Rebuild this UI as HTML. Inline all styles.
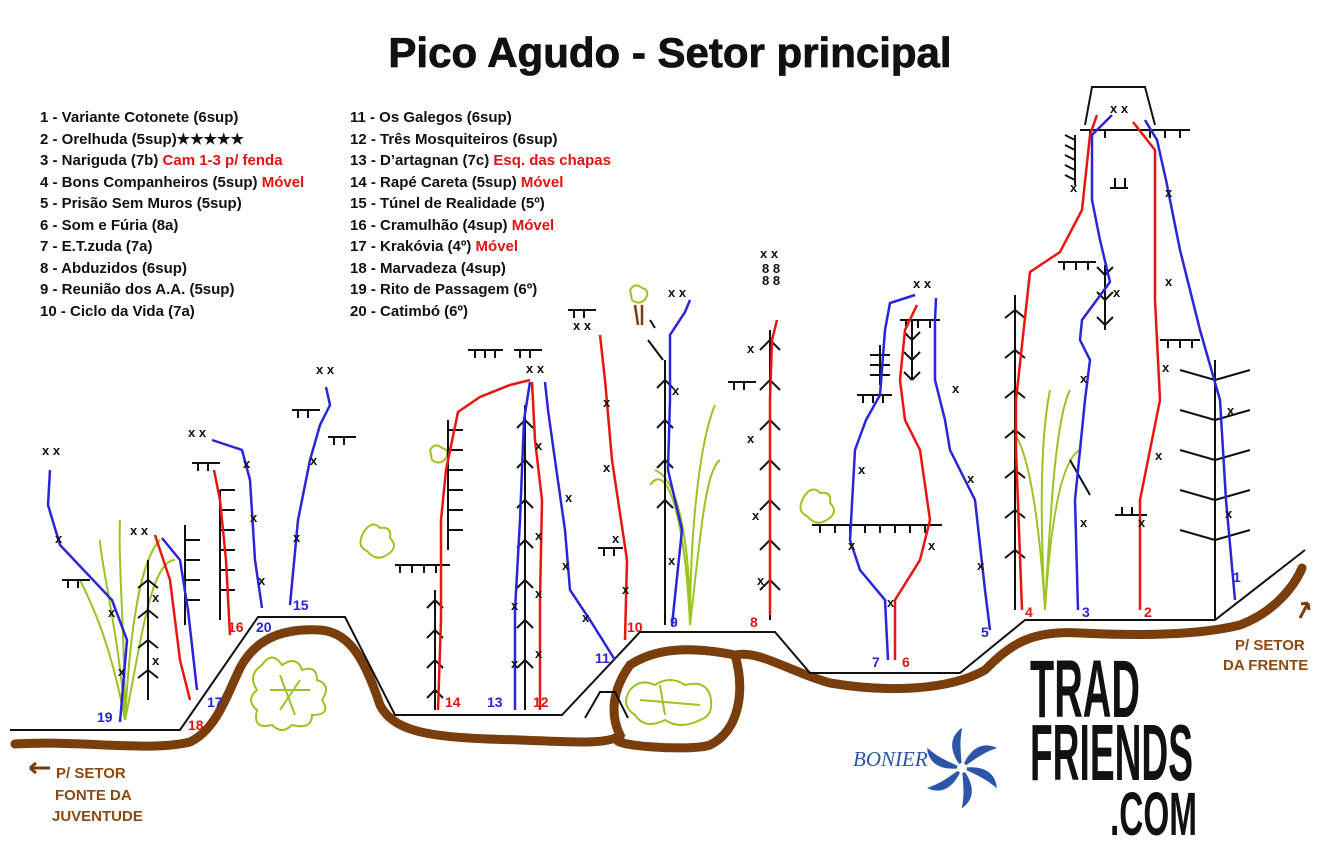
<!DOCTYPE html>
<html><head><meta charset="utf-8"><style>
html,body{margin:0;padding:0;background:#fff;}
svg{display:block;font-family:"Liberation Sans",sans-serif;}
.lg{font-size:15px;font-weight:bold;fill:#111;}
.r{fill:#e41313;}
.x{font-size:13px;font-weight:bold;fill:#111;}
.nr{font-size:14px;font-weight:bold;fill:#e41313;}
.nb{font-size:14px;font-weight:bold;fill:#2626d6;}
.red{stroke:#e8160f;stroke-width:2.5;fill:none;}
.blue{stroke:#2b25d9;stroke-width:2.5;fill:none;}
.blk{stroke:#111;stroke-width:2;fill:none;}
.grn{stroke:#9cc321;stroke-width:2;fill:none;}
</style></head><body>
<svg width="1328" height="850" viewBox="0 0 1328 850">
<text x="670" y="67" text-anchor="middle" font-size="42" font-weight="bold" fill="#111" stroke="#111" stroke-width="0.8">Pico Agudo - Setor principal</text>
<g class="lg">
<text x="40" y="122">1 - Variante Cotonete (6sup)</text>
<text x="40" y="144">2 - Orelhuda (5sup)★★★★★</text>
<text x="40" y="165">3 - Nariguda (7b) <tspan class="r">Cam 1-3 p/ fenda</tspan></text>
<text x="40" y="187">4 - Bons Companheiros (5sup) <tspan class="r">Móvel</tspan></text>
<text x="40" y="208">5 - Prisão Sem Muros (5sup)</text>
<text x="40" y="230">6 - Som e Fúria (8a)</text>
<text x="40" y="251">7 - E.T.zuda (7a)</text>
<text x="40" y="273">8 - Abduzidos (6sup)</text>
<text x="40" y="294">9 - Reunião dos A.A. (5sup)</text>
<text x="40" y="316">10 - Ciclo da Vida (7a)</text>
<text x="350" y="122">11 - Os Galegos (6sup)</text>
<text x="350" y="144">12 - Três Mosquiteiros (6sup)</text>
<text x="350" y="165">13 - D’artagnan (7c) <tspan class="r">Esq. das chapas</tspan></text>
<text x="350" y="187">14 - Rapé Careta (5sup) <tspan class="r">Móvel</tspan></text>
<text x="350" y="208">15 - Túnel de Realidade (5º)</text>
<text x="350" y="230">16 - Cramulhão (4sup) <tspan class="r">Móvel</tspan></text>
<text x="350" y="251">17 - Krakóvia (4º) <tspan class="r">Móvel</tspan></text>
<text x="350" y="273">18 - Marvadeza (4sup)</text>
<text x="350" y="294">19 - Rito de Passagem (6º)</text>
<text x="350" y="316">20 - Catimbó (6º)</text>
</g>
<!-- brown trail -->
<path d="M15,744 C80,740 150,752 190,742 C215,730 225,700 240,668 C255,640 280,628 320,630 C350,632 365,660 380,705 C395,735 440,738 520,740 C570,742 610,745 620,735 C610,715 612,690 630,665 C660,645 700,648 735,655 C745,690 740,730 710,745 C690,752 600,745 620,738 M735,655 C760,650 790,672 830,683 C890,693 950,690 985,670 C1010,645 1030,630 1080,633 C1140,636 1200,635 1240,625 C1275,612 1295,585 1302,568" stroke="#7a3d0c" stroke-width="9" fill="none" stroke-linecap="round"/>
<path d="M30,768 h20 M30,768 l6,-5 M30,768 l6,5" stroke="#7a3d0c" stroke-width="3" fill="none"/>
<path d="M1300,618 l8,-15 M1308,603 l-7,1 M1308,603 l1,7" stroke="#7a3d0c" stroke-width="3" fill="none"/>
<g font-size="15" font-weight="bold" fill="#8a4a14">
<text x="56" y="778">P/ SETOR</text><text x="55" y="800">FONTE DA</text><text x="52" y="821">JUVENTUDE</text>
<text x="1235" y="650">P/ SETOR</text><text x="1223" y="670">DA FRENTE</text>
</g>
<!-- ground -->
<polyline class="blk" points="10,730 180,730 258,617 345,617 395,715 562,715 640,632 775,632 810,673 960,673 1025,620 1215,620 1305,550"/>
<path class="blk" d="M585,718 L600,692 L615,692 L628,718"/>
<!-- bushes -->
<g class="grn" stroke-width="2.5">
<path d="M262,665 q10,-15 20,0 q15,-10 20,5 q15,-5 15,10 q15,5 5,20 q10,15 -10,15 q0,15 -20,10 q-10,10 -20,0 q-20,5 -15,-15 q-12,-10 0,-20 q-10,-15 5,-25z"/>
<path d="M270,690 l40,0 M280,675 l15,40 M300,680 l-20,30"/>
<path d="M630,690 q10,-12 25,-5 q15,-10 30,0 q20,-5 25,10 q5,20 -10,25 q-20,10 -35,0 q-20,10 -30,-5 q-15,-10 -5,-25z"/>
<path d="M640,700 l60,5 M660,685 l5,30"/>
<path d="M365,530 q8,-10 15,-2 q12,-2 10,10 q10,10 -5,18 q-10,5 -18,-5 q-12,-5 -2,-21z"/>
<path d="M805,495 q8,-10 15,-2 q12,-2 10,10 q10,10 -5,18 q-10,5 -18,-5 q-12,-5 -2,-21z"/>
<path d="M430,450 q5,-8 12,-2 q8,2 4,10 q-6,8 -14,2z"/>
<path d="M630,290 q5,-8 12,-2 q8,2 4,10 q-6,8 -14,2z"/>
<path d="M125,720 C120,640 100,560 100,540 M125,720 C130,630 140,560 160,540 M125,720 C125,640 118,560 120,520 M125,720 C140,650 150,560 175,560 M125,720 C110,640 90,600 80,580"/>
<path d="M690,625 C690,550 680,480 655,470 M690,625 C690,530 700,440 715,405 M690,625 C700,540 705,470 720,460 M690,625 C685,520 668,460 650,485"/>
<path d="M1045,610 C1040,530 1030,450 1012,430 M1045,610 C1050,520 1055,420 1070,390 M1045,610 C1050,530 1060,460 1080,450 M1045,610 C1040,520 1040,440 1050,390"/>
</g>
<path d="M635,305 l3,20 M642,305 l0,20" stroke="#7a3d0c" stroke-width="2.5"/>
<!-- bolt lines -->
<g class="blk">
<path d="M220,490 v130 M220,490 h15 M220,510 h15 M220,530 h15 M220,550 h15 M220,570 h15 M220,590 h15"/>
<path d="M185,525 v100 M185,540 h15 M185,560 h15 M185,580 h15 M185,600 h15"/>
<path d="M148,560 v140 M148,580 l-10,8 M148,580 l10,8 M148,610 l-10,8 M148,610 l10,8 M148,640 l-10,8 M148,640 l10,8 M148,670 l-10,8 M148,670 l10,8"/>
<path d="M448,420 v130 M448,430 h15 M448,450 h15 M448,470 h15 M448,490 h15 M448,510 h15 M448,530 h15"/>
<path d="M435,590 v120 M435,600 l-8,8 M435,600 l8,8 M435,630 l-8,8 M435,630 l8,8 M435,660 l-8,8 M435,660 l8,8 M435,690 l-8,8 M435,690 l8,8"/>
<path d="M525,405 v305 M525,420 l-8,8 M525,420 l8,8 M525,460 l-8,8 M525,460 l8,8 M525,500 l-8,8 M525,500 l8,8 M525,540 l-8,8 M525,540 l8,8 M525,580 l-8,8 M525,580 l8,8 M525,620 l-8,8 M525,620 l8,8 M525,660 l-8,8 M525,660 l8,8"/>
<path d="M665,360 v265 M665,380 l-8,8 M665,380 l8,8 M665,420 l-8,8 M665,420 l8,8 M665,460 l-8,8 M665,460 l8,8 M665,500 l-8,8 M665,500 l8,8 M648,340 l15,20 M650,320 l5,8"/>
<path d="M770,330 v290 M770,340 l-10,10 M770,340 l10,10 M770,380 l-10,10 M770,380 l10,10 M770,420 l-10,10 M770,420 l10,10 M770,460 l-10,10 M770,460 l10,10 M770,500 l-10,10 M770,500 l10,10 M770,540 l-10,10 M770,540 l10,10 M770,580 l-10,10 M770,580 l10,10"/>
<path d="M1015,295 v315 M1015,310 l-10,8 M1015,310 l10,8 M1015,350 l-10,8 M1015,350 l10,8 M1015,390 l-10,8 M1015,390 l10,8 M1015,430 l-10,8 M1015,430 l10,8 M1015,470 l-10,8 M1015,470 l10,8 M1015,510 l-10,8 M1015,510 l10,8 M1015,550 l-10,8 M1015,550 l10,8"/>
<path d="M1215,360 v260 M1215,380 l-35,-10 M1215,380 l35,-10 M1215,420 l-35,-10 M1215,420 l35,-10 M1215,460 l-35,-10 M1215,460 l35,-10 M1215,500 l-35,-10 M1215,500 l35,-10 M1215,540 l-35,-10 M1215,540 l35,-10"/>
<path d="M1075,135 v50 M1075,140 l-10,-5 M1075,150 l-10,-5 M1075,160 l-10,-5 M1075,170 l-10,-5 M1075,180 l-10,-5"/>
<path d="M1105,265 v65 M1105,275 l-8,-8 M1105,275 l8,-8 M1105,300 l-8,-8 M1105,300 l8,-8 M1105,325 l-8,-8 M1105,325 l8,-8"/>
<path d="M880,345 v40 M870,355 h20 M870,365 h20 M870,375 h20"/>
<path d="M912,320 v60 M912,340 l-8,-8 M912,340 l8,-8 M912,360 l-8,-8 M912,360 l8,-8 M912,380 l-8,-8 M912,380 l8,-8"/>
<path d="M1070,460 l20,35"/>
<path d="M812,525 h130 M820,525 v8 M835,525 v8 M850,525 v8 M865,525 v8 M880,525 v8 M895,525 v8 M910,525 v8 M925,525 v8"/>
<path d="M395,565 h55 M400,565 v8 M412,565 v8 M424,565 v8 M436,565 v8"/>
<path d="M62,580 h28 M68,580 v8 M78,580 v8 M192,463 h28 M198,463 v8 M208,463 v8 M292,410 h28 M298,410 v8 M308,410 v8 M328,437 h28 M334,437 v8 M344,437 v8 M468,350 h35 M475,350 v8 M485,350 v8 M495,350 v8 M514,350 h28 M520,350 v8 M530,350 v8 M568,310 h28 M574,310 v8 M584,310 v8 M598,548 h25 M604,548 v8 M614,548 v8 M728,382 h28 M734,382 v8 M744,382 v8 M857,395 h35 M863,395 v8 M873,395 v8 M883,395 v8 M900,320 h40 M906,320 v8 M918,320 v8 M930,320 v8 M1058,262 h38 M1064,262 v8 M1076,262 v8 M1088,262 v8 M1160,340 h40 M1168,340 v8 M1180,340 v8 M1192,340 v8 M1110,188 h18 M1115,188 v-10 M1125,188 v-10 M1115,515 h32 M1122,515 v-8 M1132,515 v-8"/>
<path d="M1085,125 L1092,87 L1145,87 L1155,125 M1080,130 h110 M1090,130 v8 M1105,130 v8 M1150,130 v8 M1165,130 v8 M1180,130 v8"/>
</g>
<!-- routes -->
<polyline class="blue" points="120,722 127,640 112,600 60,545 48,505 50,470"/>
<polyline class="red" points="190,700 180,660 170,580 155,535"/>
<polyline class="blue" points="197,690 188,610 180,560 162,538"/>
<polyline class="red" points="230,635 226,560 220,500 214,470"/>
<polyline class="blue" points="262,608 255,560 250,480 242,450 212,440"/>
<polyline class="blue" points="290,605 298,520 310,460 320,425 330,405 326,387"/>
<polyline class="red" points="438,710 441,620 441,520 446,470 458,412 480,397 510,385 530,380"/>
<polyline class="blue" points="515,710 515,610 520,520 524,420 530,382"/>
<polyline class="red" points="540,710 540,600 542,500 535,440 532,382"/>
<polyline class="blue" points="615,660 590,620 570,590 565,530 555,460 548,410 545,382"/>
<polyline class="red" points="625,640 627,560 612,460 605,380 600,335"/>
<polyline class="blue" points="672,625 682,530 668,470 670,400 670,335 685,312 690,300"/>
<polyline class="red" points="770,615 770,500 770,400 772,340 777,320"/>
<polyline class="blue" points="888,660 885,600 860,570 850,540 855,450 866,420 880,395 885,330 890,303 915,295"/>
<polyline class="red" points="895,660 895,600 920,560 930,520 920,450 905,420 900,380 905,330 917,305"/>
<polyline class="blue" points="990,630 985,590 975,500 950,450 945,420 935,380 935,320 936,298"/>
<polyline class="red" points="1022,610 1016,450 1016,400 1030,272 1060,252 1082,210 1090,135 1097,115"/>
<polyline class="blue" points="1078,610 1075,500 1085,400 1090,360 1080,340 1082,320 1110,282 1100,240 1092,200 1092,135 1112,115"/>
<polyline class="red" points="1140,610 1140,500 1160,400 1155,300 1155,150 1133,122"/>
<polyline class="blue" points="1235,600 1226,500 1220,400 1200,330 1180,250 1166,180 1157,140 1145,120"/>
<g class="x">
<text x="42" y="455">x x</text><text x="55" y="543">x</text><text x="108" y="617">x</text><text x="118" y="676">x</text><text x="152" y="602">x</text><text x="152" y="665">x</text><text x="130" y="535">x x</text>
<text x="188" y="437">x x</text><text x="243" y="468">x</text><text x="250" y="522">x</text><text x="258" y="585">x</text><text x="310" y="465">x</text><text x="293" y="542">x</text><text x="316" y="374">x x</text>
<text x="526" y="373">x x</text><text x="535" y="450">x</text><text x="535" y="540">x</text><text x="535" y="598">x</text><text x="535" y="658">x</text><text x="511" y="610">x</text><text x="511" y="668">x</text><text x="565" y="502">x</text><text x="562" y="570">x</text><text x="582" y="622">x</text>
<text x="573" y="330">x x</text><text x="603" y="407">x</text><text x="603" y="472">x</text><text x="612" y="543">x</text><text x="622" y="594">x</text><text x="668" y="297">x x</text><text x="672" y="395">x</text><text x="668" y="565">x</text>
<text x="760" y="258">x x</text><text x="762" y="273">8 8</text><text x="762" y="285">8 8</text><text x="747" y="353">x</text><text x="747" y="443">x</text><text x="752" y="520">x</text><text x="757" y="585">x</text>
<text x="913" y="288">x x</text><text x="858" y="474">x</text><text x="848" y="550">x</text><text x="887" y="607">x</text><text x="928" y="550">x</text><text x="952" y="393">x</text><text x="967" y="483">x</text><text x="977" y="570">x</text>
<text x="1110" y="113">x x</text><text x="1070" y="192">x</text><text x="1165" y="197">x</text><text x="1165" y="286">x</text><text x="1113" y="297">x</text><text x="1080" y="383">x</text><text x="1162" y="372">x</text><text x="1227" y="415">x</text><text x="1155" y="460">x</text><text x="1225" y="518">x</text><text x="1080" y="527">x</text><text x="1138" y="527">x</text>
</g>
<text class="nb" x="1233" y="582">1</text><text class="nr" x="1144" y="617">2</text><text class="nb" x="1082" y="617">3</text><text class="nr" x="1025" y="617">4</text><text class="nb" x="981" y="637">5</text><text class="nr" x="902" y="667">6</text><text class="nb" x="872" y="667">7</text><text class="nr" x="750" y="627">8</text><text class="nb" x="670" y="627">9</text><text class="nr" x="627" y="632">10</text><text class="nb" x="595" y="663">11</text><text class="nr" x="533" y="707">12</text><text class="nb" x="487" y="707">13</text><text class="nr" x="445" y="707">14</text><text class="nb" x="293" y="610">15</text><text class="nr" x="228" y="632">16</text><text class="nb" x="207" y="707">17</text><text class="nr" x="188" y="730">18</text><text class="nb" x="97" y="722">19</text><text class="nb" x="256" y="632">20</text>
<text x="853" y="766" font-family="Liberation Serif,serif" font-style="italic" font-size="21" fill="#2a55a8">BONIER</text>
<g transform="translate(962,768)" fill="#2a55a8">
<path d="M0,0 C10,-25 25,-25 35,-20 C20,-15 12,-8 0,0z"/>
<path d="M0,0 C10,-25 25,-25 35,-20 C20,-15 12,-8 0,0z" transform="rotate(60)"/>
<path d="M0,0 C10,-25 25,-25 35,-20 C20,-15 12,-8 0,0z" transform="rotate(120)"/>
<path d="M0,0 C10,-25 25,-25 35,-20 C20,-15 12,-8 0,0z" transform="rotate(180)"/>
<path d="M0,0 C10,-25 25,-25 35,-20 C20,-15 12,-8 0,0z" transform="rotate(240)"/>
<path d="M0,0 C10,-25 25,-25 35,-20 C20,-15 12,-8 0,0z" transform="rotate(300)"/>
<circle r="5" fill="#fff"/>
</g>
<g font-weight="bold" fill="#111" font-size="50">
<text transform="translate(1030,717) scale(1,1.64)" textLength="110" lengthAdjust="spacingAndGlyphs">TRAD</text>
<text transform="translate(1030,780) scale(1,1.59)" textLength="163" lengthAdjust="spacingAndGlyphs">FRIENDS</text>
<text transform="translate(1110,835) scale(1,1.23)" textLength="87" lengthAdjust="spacingAndGlyphs">.COM</text>
</g>
</svg>
</body></html>
